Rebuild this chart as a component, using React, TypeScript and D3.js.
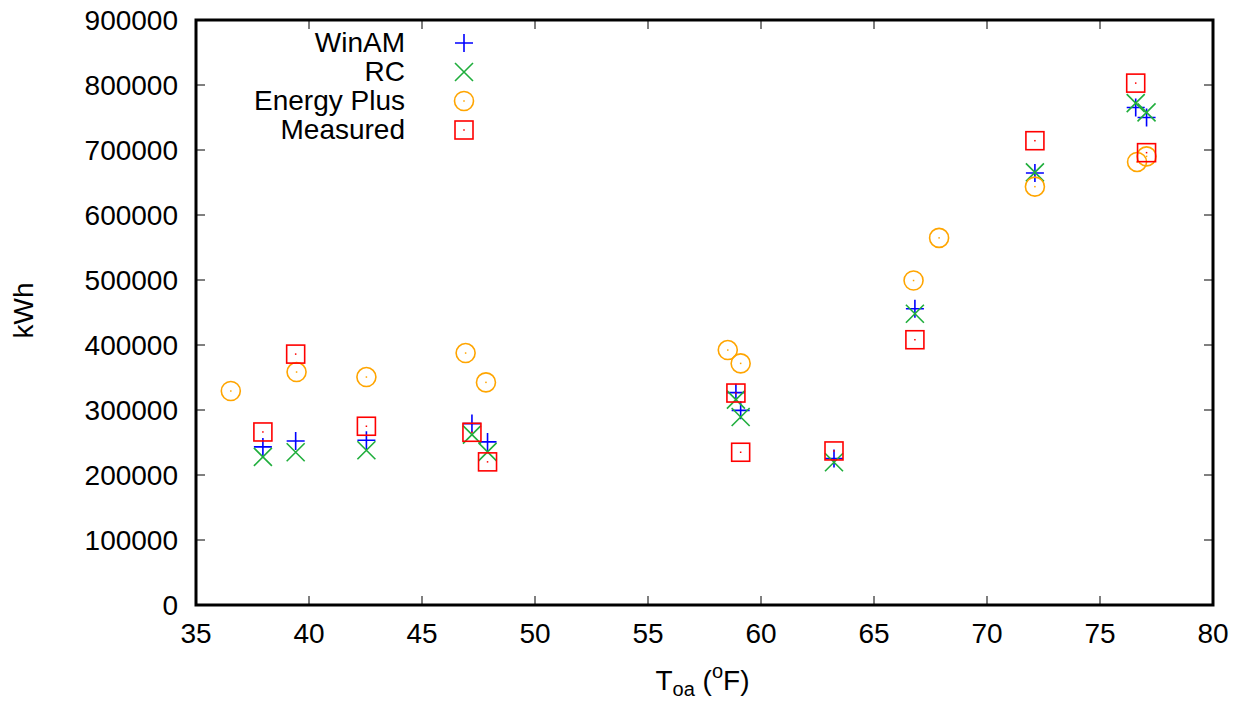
import React from "react";
import * as d3 from "d3";

// Monthly outdoor air temperature (°F) for the simulated/measured months
const monthTemps = [37.96, 39.41, 42.54, 47.21, 47.9, 58.89, 59.1, 63.23, 66.81, 72.12, 76.58, 77.06];
const winamKWh = [243200, 252400, 253500, 279100, 250900, 326700, 299500, 225300, 455700, 664700, 765500, 750100];
const rcKWh = [227800, 235000, 238100, 262200, 235500, 316000, 289200, 219700, 448100, 665500, 772200, 757800];
const measuredKWh = [266200, 386000, 275000, 265700, 220200, 326100, 235000, 237000, 408100, 714300, 802900, 695900];

// Energy Plus runs on its own weather file, so its temperatures differ
const eplusTemps = [36.54, 39.45, 42.54, 46.93, 47.83, 58.53, 59.1, 66.75, 67.88, 72.12, 76.64, 77.06];
const eplusKWh = [329200, 358400, 350700, 387600, 342500, 392200, 371700, 499200, 564800, 643600, 681600, 690200];

const xTicks = [35, 40, 45, 50, 55, 60, 65, 70, 75, 80];
const yTicks = [0, 100000, 200000, 300000, 400000, 500000, 600000, 700000, 800000, 900000];

const W = 1245;
const H = 702;
const margin = { left: 196, right: 32, top: 20, bottom: 97 };
const FONT = "'Liberation Sans', Arial, sans-serif";
const FS = 28;

const BLUE = "#0000ff";
const GREEN = "#1fae3c";
const ORANGE = "#ffa500";
const RED = "#ff0000";

type Kind = "plus" | "cross" | "circle" | "square";

function Marker({ kind, x, y }: { kind: Kind; x: number; y: number }) {
  const r = 9;
  if (kind === "plus") {
    return (
      <path d={`M${x - r},${y}H${x + r}M${x},${y - r}V${y + r}`} stroke={BLUE} strokeWidth={1.6} fill="none" />
    );
  }
  if (kind === "cross") {
    return (
      <path
        d={`M${x - r},${y - r}L${x + r},${y + r}M${x - r},${y + r}L${x + r},${y - r}`}
        stroke={GREEN}
        strokeWidth={1.6}
        fill="none"
      />
    );
  }
  if (kind === "circle") {
    return (
      <g>
        <circle cx={x} cy={y} r={9.5} stroke={ORANGE} strokeWidth={1.6} fill="none" />
        <rect x={x - 0.75} y={y - 0.75} width={1.5} height={1.5} fill={ORANGE} />
      </g>
    );
  }
  return (
    <g>
      <rect x={x - 9} y={y - 9} width={18} height={18} stroke={RED} strokeWidth={1.6} fill="none" />
      <rect x={x - 0.75} y={y - 0.75} width={1.5} height={1.5} fill={RED} />
    </g>
  );
}

export default function App() {
  const x = d3.scaleLinear().domain([35, 80]).range([margin.left, W - margin.right]);
  const y = d3.scaleLinear().domain([0, 900000]).range([H - margin.bottom, margin.top]);
  const [x0, x1] = x.range();
  const [y0, y1] = y.range();

  const series: { name: string; kind: Kind; xs: number[]; ys: number[] }[] = [
    { name: "WinAM", kind: "plus", xs: monthTemps, ys: winamKWh },
    { name: "RC", kind: "cross", xs: monthTemps, ys: rcKWh },
    { name: "Energy Plus", kind: "circle", xs: eplusTemps, ys: eplusKWh },
    { name: "Measured", kind: "square", xs: monthTemps, ys: measuredKWh },
  ];

  const tickLen = 9;

  return (
    <svg
      width={W}
      height={H}
      style={{ position: "absolute", left: 0, top: 0, background: "#fff" }}
      fontFamily={FONT}
    >
      <rect x={0} y={0} width={W} height={H} fill="#fff" />

      {/* tick marks, drawn inward on all four sides */}
      {xTicks.slice(1, -1).map((t) => (
        <g key={`xt${t}`} stroke="#000" strokeWidth={1}>
          <line x1={x(t)} x2={x(t)} y1={y0} y2={y0 - tickLen} />
          <line x1={x(t)} x2={x(t)} y1={y1} y2={y1 + tickLen} />
        </g>
      ))}
      {yTicks.slice(1, -1).map((t) => (
        <g key={`yt${t}`} stroke="#000" strokeWidth={1}>
          <line x1={x0} x2={x0 + tickLen} y1={y(t)} y2={y(t)} />
          <line x1={x1} x2={x1 - tickLen} y1={y(t)} y2={y(t)} />
        </g>
      ))}

      {/* tick labels */}
      {xTicks.map((t) => (
        <text key={`xl${t}`} x={x(t)} y={y0 + 38} textAnchor="middle" fontSize={FS} fill="#000">
          {t}
        </text>
      ))}
      {yTicks.map((t) => (
        <text key={`yl${t}`} x={x0 - 18} y={y(t) + 10} textAnchor="end" fontSize={FS} fill="#000">
          {t}
        </text>
      ))}

      {/* axis titles */}
      <text
        transform={`translate(33, ${(y0 + y1) / 2 - 2}) rotate(-90)`}
        textAnchor="middle"
        fontSize={FS}
        fill="#000"
      >
        kWh
      </text>
      <text x={(x0 + x1) / 2 - 2} y={690} textAnchor="middle" fontSize={FS} fill="#000">
        T<tspan fontSize={20} dy={6}>oa</tspan>
        <tspan dy={-6}> (</tspan>
        <tspan fontSize={20} dy={-12}>o</tspan>
        <tspan dy={12}>F)</tspan>
      </text>

      {/* data points */}
      {series.map((s) => (
        <g key={s.name}>
          {s.xs.map((xv, i) => (
            <Marker key={i} kind={s.kind} x={x(xv)} y={y(s.ys[i])} />
          ))}
        </g>
      ))}

      {/* legend */}
      {series.map((s, i) => {
        const ly = 43 + i * 29;
        return (
          <g key={`lg${s.name}`}>
            <text x={405} y={ly + 9} textAnchor="end" fontSize={FS} fill="#000">
              {s.name}
            </text>
            <Marker kind={s.kind} x={464} y={ly} />
          </g>
        );
      })}

      {/* frame */}
      <rect x={x0} y={y1} width={x1 - x0} height={y0 - y1} fill="none" stroke="#000" strokeWidth={3} />
    </svg>
  );
}
